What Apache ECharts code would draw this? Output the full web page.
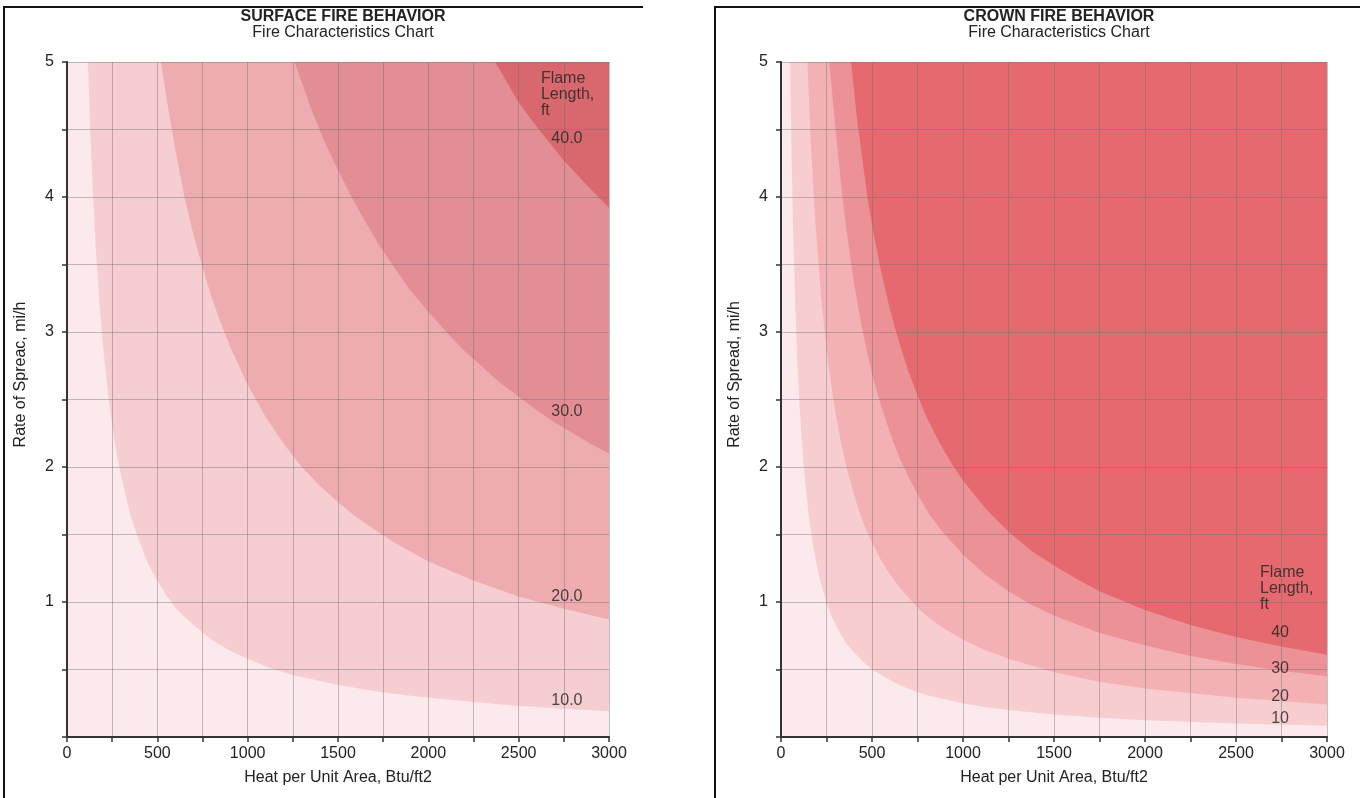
<!DOCTYPE html>
<html>
<head>
<meta charset="utf-8">
<title>Fire Characteristics Chart</title>
<script src="https://cdn.jsdelivr.net/npm/echarts@6/dist/echarts.min.js"></script>
<style>
html,body{margin:0;padding:0;background:#fff;}
#main{width:1368px;height:798px;}
</style>
</head>
<body>
<div id="main"></div>
<script>
// boundaries: [heat per unit area Btu/ft2, rate of spread mi/h]
var surface40 = [[0,5],[2370,5],[2500,4.7],[2600,4.52],[2750,4.27],[2875,4.09],[3000,3.92]];
var surface30 = [[0,5],[1260,5],[1350,4.66],[1425,4.41],[1500,4.2],[1575,4.0],[1650,3.82],[1725,3.65],[1800,3.5],[1900,3.31],[2000,3.15],[2100,3.0],[2200,2.86],[2300,2.74],[2400,2.62],[2500,2.52],[2600,2.42],[2700,2.33],[2800,2.25],[2900,2.17],[3000,2.1]];
var surface20 = [[0,5],[520,5],[560,4.66],[600,4.35],[650,4.0],[700,3.72],[750,3.48],[800,3.26],[850,3.07],[900,2.9],[1000,2.61],[1100,2.37],[1200,2.17],[1300,2.0],[1400,1.86],[1500,1.74],[1600,1.63],[1800,1.45],[2000,1.3],[2250,1.16],[2500,1.04],[2750,0.95],[3000,0.87]];
var surface10 = [[0,5],[116,5],[125,4.62],[140,4.13],[160,3.61],[180,3.21],[200,2.89],[225,2.57],[250,2.31],[275,2.1],[300,1.93],[350,1.65],[400,1.45],[450,1.28],[500,1.16],[550,1.05],[600,0.96],[650,0.89],[700,0.83],[800,0.72],[900,0.64],[1000,0.58],[1125,0.51],[1250,0.46],[1500,0.385],[1750,0.33],[2000,0.29],[2500,0.23],[3000,0.19]];

var crown40 = [[0,5],[385,5],[420,4.55],[475,4.0],[510,3.72],[550,3.45],[600,3.16],[650,2.92],[700,2.71],[750,2.53],[810,2.34],[875,2.17],[940,2.02],[1000,1.9],[1125,1.69],[1250,1.52],[1375,1.38],[1500,1.27],[1625,1.17],[1750,1.08],[2000,0.94],[2250,0.83],[2500,0.74],[2750,0.67],[3000,0.61]];
var crown30 = [[0,5],[265,5],[300,4.5],[340,3.97],[370,3.65],[400,3.37],[435,3.1],[475,2.84],[510,2.64],[550,2.45],[600,2.25],[650,2.07],[700,1.93],[750,1.8],[810,1.66],[875,1.54],[1000,1.35],[1125,1.2],[1250,1.08],[1375,0.98],[1500,0.9],[1750,0.77],[2000,0.68],[2250,0.6],[2500,0.54],[2750,0.49],[3000,0.45]];
var crown20 = [[0,5],[145,5],[165,4.36],[190,3.79],[220,3.27],[240,3.0],[260,2.77],[280,2.57],[300,2.4],[330,2.18],[360,2.0],[390,1.85],[425,1.69],[460,1.56],[500,1.44],[550,1.31],[600,1.2],[675,1.07],[750,0.96],[825,0.87],[900,0.8],[1000,0.72],[1125,0.64],[1250,0.58],[1500,0.48],[1750,0.41],[2000,0.36],[2500,0.29],[3000,0.24]];
var crown10 = [[0,5],[50,5],[58,4.31],[67,3.73],[78,3.21],[90,2.78],[105,2.38],[125,2.0],[150,1.67],[165,1.52],[180,1.39],[200,1.25],[220,1.14],[240,1.04],[260,0.96],[290,0.86],[320,0.78],[360,0.69],[400,0.63],[450,0.56],[500,0.5],[575,0.44],[650,0.385],[725,0.345],[800,0.31],[900,0.28],[1000,0.25],[1125,0.22],[1250,0.2],[1500,0.167],[1750,0.143],[2000,0.125],[2500,0.1],[3000,0.083]];

// label anchors
var surfaceHead = [[2623,4.76]];
var surfaceTags = [[2767,4.43,'40.0'],[2767,2.41,'30.0'],[2767,1.04,'20.0'],[2767,0.27,'10.0']];
var crownHead = [[2632,1.10]];
var crownTags = [[2742,0.77,'40'],[2742,0.51,'30'],[2742,0.30,'20'],[2742,0.14,'10']];

var xTicks = [0,500,1000,1500,2000,2500,3000];
var yTicks = [1,2,3,4,5];

var F = "'Liberation Sans Narrow','Liberation Sans',Arial,sans-serif";
var surfaceColors = ['#d9686e','#e38e94','#eeacb0','#f6cdd0','#fce9eb'];
var crownColors = ['#e5696f','#ec9196','#f3b1b5','#f8cdd0','#fce9eb'];

var myChart = echarts.init(document.getElementById('main'));

function xAx(i){
	return {
		type:'value', gridIndex:i, min:0, max:3000, interval:250, z:5,
		axisLine:{lineStyle:{color:'#333',width:2}},
		axisTick:{length:5,lineStyle:{color:'#333',width:1.5}},
		axisLabel:{color:'#222',fontSize:16,fontFamily:F,margin:9,showMinLabel:true,showMaxLabel:true,
			formatter:function(v){ return xTicks.indexOf(v) >= 0 ? String(v) : ''; }},
		splitLine:{show:true,lineStyle:{color:'rgba(110,110,110,0.42)',width:1}},
		name:'Heat per Unit Area, Btu/ft2', nameLocation:'middle', nameGap:33,
		nameTextStyle:{color:'#222',fontSize:16,fontFamily:F}
	};
}
function yAx(i, name){
	return {
		type:'value', gridIndex:i, min:0, max:5, interval:0.5, z:5,
		axisLine:{lineStyle:{color:'#333',width:2}},
		axisTick:{length:5,lineStyle:{color:'#333',width:1.5}},
		axisLabel:{color:'#222',fontSize:16,fontFamily:F,margin:13,
			formatter:function(v){ return yTicks.indexOf(v) >= 0 ? String(v) : ''; }},
		splitLine:{show:true,lineStyle:{color:'rgba(110,110,110,0.42)',width:1}},
		name:name, nameLocation:'middle', nameGap:38,
		nameTextStyle:{color:'#222',fontSize:16,fontFamily:F,padding:[0,0,0,50]}
	};
}
function band(i, data, color){
	return {
		type:'line', xAxisIndex:i, yAxisIndex:i, data:data, showSymbol:false,
		smooth:false, silent:true,
		lineStyle:{width:0}, areaStyle:{color:color, opacity:1}
	};
}
function tags(i, data, head){
	return [{
		type:'scatter', xAxisIndex:i, yAxisIndex:i, symbolSize:0, silent:true, z:6,
		data:head.map(function(d){ return {value:d, name:'Flame\nLength,\nft'}; }),
		label:{show:true,position:'inside',formatter:'{b}',align:'left',verticalAlign:'middle',
			color:'#222',fontSize:16,lineHeight:16,fontFamily:F}
	},{
		type:'scatter', xAxisIndex:i, yAxisIndex:i, symbolSize:0, silent:true, z:6,
		data:data.map(function(d){ return {value:[d[0],d[1]], name:d[2]}; }),
		label:{show:true,position:'inside',formatter:'{b}',align:'center',verticalAlign:'middle',
			color:'#222',fontSize:16,fontFamily:F}
	}];
}

option = {
	backgroundColor:'#fff',
	animation:false,
	title:[
		{text:'SURFACE FIRE BEHAVIOR', subtext:'Fire Characteristics Chart', left:338, top:4, textAlign:'center', itemGap:0,
			textStyle:{fontSize:16,fontWeight:'bold',color:'#222',fontFamily:F},
			subtextStyle:{fontSize:16,color:'#222',fontFamily:F}},
		{text:'CROWN FIRE BEHAVIOR', subtext:'Fire Characteristics Chart', left:1054, top:4, textAlign:'center', itemGap:0,
			textStyle:{fontSize:16,fontWeight:'bold',color:'#222',fontFamily:F},
			subtextStyle:{fontSize:16,color:'#222',fontFamily:F}}
	],
	grid:[
		{left:67, top:62, width:542, height:675, show:true, borderWidth:0, backgroundColor:surfaceColors[0]},
		{left:781, top:62, width:546, height:675, show:true, borderWidth:0, backgroundColor:crownColors[0]}
	],
	xAxis:[xAx(0), xAx(1)],
	yAxis:[yAx(0,'Rate of Spreac, mi/h'), yAx(1,'Rate of Spread, mi/h')],
	graphic:[
		{type:'polyline', shape:{points:[[4,798],[4,7],[643,7]]}, style:{stroke:'#111',lineWidth:2,fill:null}},
		{type:'polyline', shape:{points:[[715,798],[715,7],[1360,7]]}, style:{stroke:'#111',lineWidth:2,fill:null}}
	],
	series:[
		band(0, surface40, surfaceColors[1]),
		band(0, surface30, surfaceColors[2]),
		band(0, surface20, surfaceColors[3]),
		band(0, surface10, surfaceColors[4]),
		band(1, crown40, crownColors[1]),
		band(1, crown30, crownColors[2]),
		band(1, crown20, crownColors[3]),
		band(1, crown10, crownColors[4])
	].concat(tags(0, surfaceTags, surfaceHead)).concat(tags(1, crownTags, crownHead))
};

myChart.setOption(option);
</script>
</body>
</html>
